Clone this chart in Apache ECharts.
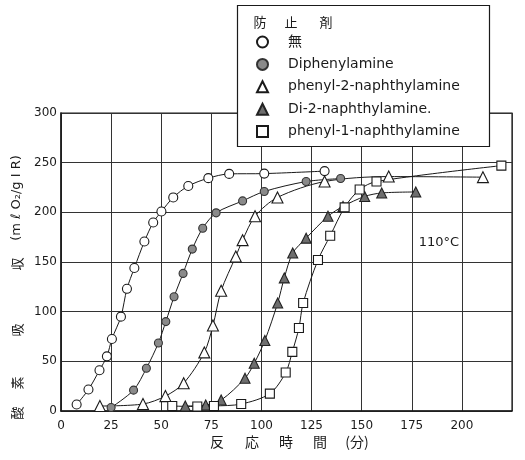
<!DOCTYPE html>
<html>
<head>
<meta charset="utf-8">
<script src="https://cdn.jsdelivr.net/npm/echarts@6/dist/echarts.min.js"></script>
<style>
  html, body { margin: 0; padding: 0; background: #fff; }
  #chart { width: 525px; height: 460px; }
</style>
</head>
<body>
<div id="chart"></div>
<script>
// Oxygen absorption of rubber at 110°C with various antioxidants
// x: reaction time (min), y: O2 absorbed (ml O2 / g IR)

const seriesNames = ['無', 'Diphenylamine', 'phenyl-2-naphthylamine', 'Di-2-naphthylamine.', 'phenyl-1-naphthylamine'];

const noneX = [7.8, 13.7, 19.2, 22.9, 25.4, 29.9, 32.9, 36.6, 41.6, 46, 50.1, 56, 63.5, 73.5, 83.9, 101.4, 131.5];
const noneY = [6.5, 21.6, 41, 55, 72.5, 95, 123, 144, 170.6, 189.8, 200.8, 215, 226.5, 234.4, 238.7, 239, 241.5];

const dpaX = [25, 36.2, 42.6, 48.6, 52.3, 56.4, 60.9, 65.5, 70.7, 77.4, 90.6, 101.4, 122.3, 139.5];
const dpaY = [3.5, 21, 43, 68.5, 90, 115, 138.5, 163, 184, 199.5, 211.5, 221, 231, 234];

const p2nX = [19.4, 40.9, 52.1, 61.2, 71.5, 75.8, 79.9, 87.2, 90.6, 96.8, 108, 131.5, 163.5, 210.5];
const p2nY = [5, 7, 15, 28, 59, 86, 121, 155.6, 172, 196, 215, 231, 236, 235.4];

const d2nX = [62, 72.2, 79.9, 91.8, 96.4, 101.7, 108.1, 111.4, 115.6, 122.3, 133.2, 140.7, 151.5, 160, 177];
const d2nY = [5, 6, 11, 33, 48, 71, 108.7, 134, 159, 174, 196, 206, 216, 219.5, 220.5];

const p1nX = [55.5, 68, 76.3, 89.9, 104.2, 112.1, 115.4, 118.7, 120.8, 128.2, 134.3, 141.5, 149, 157.4, 219.7];
const p1nY = [5, 4.5, 5, 7, 17.5, 38.7, 59.5, 83.6, 108.7, 152, 176.4, 205, 223, 231, 247];

const xTicks = [0, 25, 50, 75, 100, 125, 150, 175, 200];
const yTicks = [0, 50, 100, 150, 200, 250, 300];

const legendTitle = ['防', '止', '剤'];
const yTitleParts = ['酸', '素', '吸', '収', '(m ℓ O₂/g I R)'];
const xTitleParts = ['反', '応', '時', '間', '(分)'];
const tempLabel = '110°C';

const zip = (xs, ys) => xs.map((x, i) => [x, ys[i]]);

const INK = '#1a1a1a';
const LATIN = 'DejaVu Sans, Noto Sans CJK JP, sans-serif';
const CJK = 'Noto Sans CJK JP, sans-serif';

function lineSeries(name, data, symbol, size, fill, border) {
  return {
    name, type: 'line', data,
    symbol, symbolSize: size,
    smooth: 0.3,
    lineStyle: { color: INK, width: 1 },
    itemStyle: { color: fill, borderColor: border, borderWidth: 1.1 },
    emphasis: { disabled: true },
    animation: false,
    z: 3
  };
}

const chart = echarts.init(document.getElementById('chart'), null, { renderer: 'canvas' });

const graphics = [];
// legend frame
graphics.push({
  type: 'rect', z: 10,
  shape: { x: 237.5, y: 5.5, width: 252, height: 141 },
  style: { fill: '#fff', stroke: INK, lineWidth: 1.2 }
});
// legend heading
const headX = [260, 291, 326];
legendTitle.forEach((t, i) => graphics.push({
  type: 'text', z: 11, x: headX[i], y: 22,
  style: { text: t, font: '13px ' + CJK, fill: INK, textAlign: 'center', textVerticalAlign: 'middle' }
}));
// y axis title (rotated)
const yTitlePos = [413, 383, 330, 264, 198];
yTitleParts.forEach((t, i) => graphics.push({
  type: 'text', z: 11, x: 17, y: yTitlePos[i], rotation: Math.PI / 2,
  style: { text: t, font: '13px ' + (i < 4 ? CJK : LATIN), fill: INK, textAlign: 'center', textVerticalAlign: 'middle' }
}));
// x axis title
const xTitlePos = [217, 252, 286, 320, 357];
xTitleParts.forEach((t, i) => graphics.push({
  type: 'text', z: 11, x: xTitlePos[i], y: 442,
  style: { text: t, font: '14px ' + CJK, fill: INK, textAlign: 'center', textVerticalAlign: 'middle' }
}));
// temperature note
graphics.push({
  type: 'text', z: 11, x: 439, y: 243,
  style: { text: tempLabel, font: '13px ' + LATIN, fill: INK, textAlign: 'center', textVerticalAlign: 'middle' }
});

const option = {
  backgroundColor: '#fff',
  animation: false,
  grid: {
    left: 61, right: 13, top: 113, bottom: 49,
    show: true, borderColor: INK, borderWidth: 1.2, backgroundColor: 'transparent'
  },
  xAxis: {
    type: 'value', min: 0, max: 225, interval: 25,
    axisLine: { show: true, onZero: false, lineStyle: { color: INK, width: 1.5 } },
    axisTick: { show: false },
    axisLabel: {
      margin: 9, color: INK, fontSize: 12, fontFamily: LATIN,
      formatter: v => (xTicks.includes(v) ? String(v) : '')
    },
    splitLine: { show: true, lineStyle: { color: '#333', width: 1 } }
  },
  yAxis: {
    type: 'value', min: 0, max: 300, interval: 50,
    axisLine: { show: true, lineStyle: { color: INK, width: 1.5 } },
    axisTick: { show: false },
    axisLabel: {
      margin: 4, color: INK, fontSize: 12, fontFamily: LATIN,
      formatter: v => (yTicks.includes(v) ? String(v) : '')
    },
    splitLine: { show: true, lineStyle: { color: '#333', width: 1 } }
  },
  legend: {
    orient: 'vertical', left: 256, top: 35, z: 20, padding: 0,
    itemWidth: 11, itemHeight: 11, itemGap: 8.4,
    selectedMode: false,
    data: [
      { name: seriesNames[0], icon: 'circle' },
      { name: seriesNames[1], icon: 'circle' },
      { name: seriesNames[2], icon: 'triangle' },
      { name: seriesNames[3], icon: 'triangle' },
      { name: seriesNames[4], icon: 'rect' }
    ],
    textStyle: { fontFamily: LATIN, fontSize: 14, lineHeight: 13, color: INK, padding: [0, 0, 0, 15] }
  },
  graphic: graphics,
  series: [
    lineSeries(seriesNames[0], zip(noneX, noneY), 'circle', 9, '#fff', INK),
    lineSeries(seriesNames[1], zip(dpaX, dpaY), 'circle', 8, '#8a8a8a', '#333'),
    lineSeries(seriesNames[2], zip(p2nX, p2nY), 'triangle', 11, '#fff', INK),
    lineSeries(seriesNames[3], zip(d2nX, d2nY), 'triangle', 10, '#6e6e6e', '#222'),
    lineSeries(seriesNames[4], zip(p1nX, p1nY), 'rect', 9, '#fff', INK)
  ]
};

chart.setOption(option);
</script>
</body>
</html>
